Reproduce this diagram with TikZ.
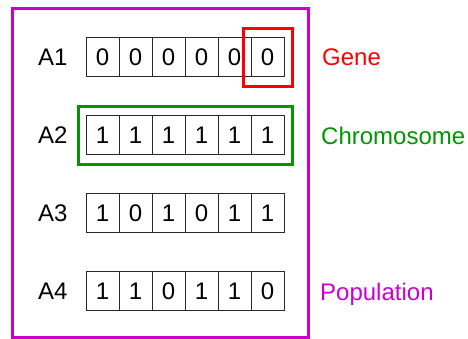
\documentclass[tikz,border=0pt]{standalone}
\usepackage{fontspec}
\setmainfont{Liberation Sans}
\definecolor{genered}{RGB}{255,0,0}
\definecolor{chromgreen}{RGB}{0,150,0}
\definecolor{popmag}{RGB}{204,0,204}
\definecolor{cellgray}{RGB}{40,40,40}
\begin{document}
\begin{tikzpicture}[x=1pt,y=-1pt,
  cellbox/.style={draw=cellgray,line width=0.9pt,minimum width=33pt,minimum height=39.5pt,inner sep=0pt,font=\fontsize{24}{28}\selectfont},
  rowlabel/.style={anchor=base west,inner sep=0pt,font=\fontsize{24}{28}\selectfont},
  sidelabel/.style={anchor=base west,inner sep=0pt,font=\fontsize{24}{28}\selectfont},
  framebox/.style={line width=3pt}]
\useasboundingbox (0,0) rectangle (468,339);
% population frame
\draw[framebox,draw=popmag] (12.5,8.5) rectangle (308.5,337);
% rows
\foreach \r/\bits in {1/{0,0,0,0,0,0},2/{1,1,1,1,1,1},3/{1,0,1,0,1,1},4/{1,1,0,1,1,0}}{
  \pgfmathsetmacro{\yc}{57+78*(\r-1)}
  \node[rowlabel] (lab\r) at (38,\yc+8.6) {A\r};
  \foreach \b [count=\c] in \bits {
    \node[cellbox] (c\r\c) at (86+33*\c-16.5,\yc) {\b};
  }
}
% gene and chromosome highlights
\draw[framebox,draw=genered] (243.5,28.5) rectangle (292.5,86.5);
\draw[framebox,draw=chromgreen] (78.5,106.5) rectangle (292.5,164.5);
% side labels
\node[sidelabel,text=genered] (gene) at (322,65.6) {Gene};
\node[sidelabel,text=chromgreen] (chrom) at (321,144.1) {Chromosome};
\node[sidelabel,text=popmag] (pop) at (320,300.1) {Population};
\end{tikzpicture}
\end{document}
